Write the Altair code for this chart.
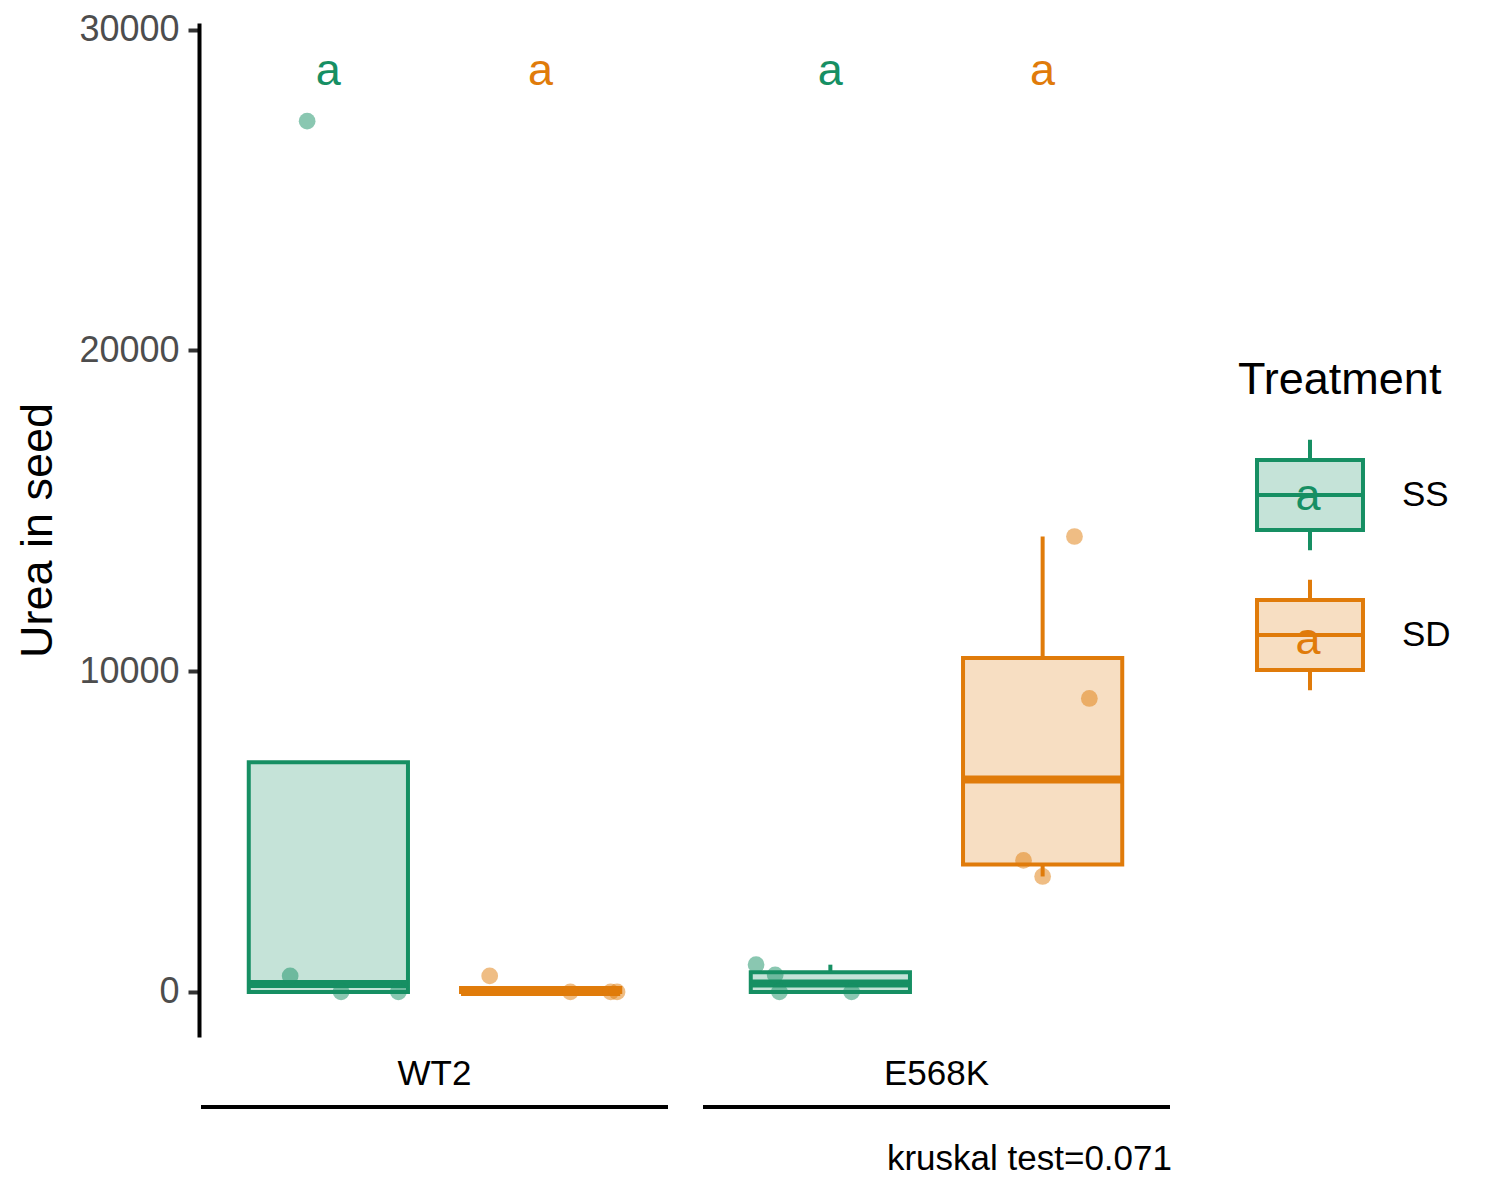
import altair as alt
import pandas as pd

FONT = "Liberation Sans"

# ---- data ----
genotypes = ["WT2", "E568K"]
treatments = ["SS", "SD"]

genotype = ["WT2"] * 8 + ["E568K"] * 8
treatment = ["SS"] * 4 + ["SD"] * 4 + ["SS"] * 4 + ["SD"] * 4
urea = [27150, 500, 0, 0,
        500, 0, 0, 0,
        850, 530, 0, 0,
        14200, 9150, 4100, 3600]
jitter = [-0.10, -0.18, 0.06, 0.33,
          -0.24, 0.14, 0.33, 0.36,
          -0.35, -0.26, -0.24, 0.10,
          0.15, 0.22, -0.09, 0.00]
letter = ["a"] * 16
letter_y = 28700
caption = "kruskal test=0.071"

strong = ["#168F63", "#E07B0A"]
light = ["#C5E3D8", "#F7DEC2"]

df = pd.DataFrame(dict(Genotype=genotype, Treatment=treatment, urea=urea,
                       jitter=jitter, letter=letter))

W, H = 467, 1014
xscale = alt.Scale(domain=[0.4, 2.6], nice=False, zero=False)
yscale = alt.Scale(domain=[-1405, 30210], nice=False, zero=False)
yax = alt.Axis(title="Urea in seed", values=[0, 10000, 20000, 30000], format="d", grid=False)
# colour scale for marks without legend (domain listed in reverse order so it
# is not merged with the fill/stroke legend)
col_strong = alt.Scale(domain=treatments[::-1], range=strong[::-1])

LX, LY = 1037, 335
PATH = ("M-0.757,-0.5H0.757V0.5H-0.757Z M-0.757,0H0.757 "
        "M0,-0.5V-0.79 M0,0.5V0.79")
leg = alt.Legend(title="Treatment", orient="none", legendX=LX, legendY=LY,
                 symbolType=PATH, symbolSize=19600, symbolStrokeWidth=4,
                 titleFontSize=45, titleFontWeight="normal", titleColor="black",
                 titleFont=FONT, labelFont=FONT, titleLimit=500,
                 labelFontSize=35, labelColor="black", labelOffset=20,
                 rowPadding=4, titlePadding=20, direction="vertical")
# second legend that only draws the coloured letter inside each key
leg_letter = alt.Legend(title="", orient="none", legendX=LX, legendY=LY + 68,
                        symbolType="square", symbolSize=19600,
                        symbolFillColor="transparent", symbolStrokeColor="transparent",
                        symbolStrokeWidth=0,
                        labelExpr="'a'", labelFont=FONT, labelFontSize=45,
                        labelAlign="center", labelBaseline="middle",
                        labelOffset=alt.ExprRef("-70"),
                        labelColor=alt.ExprRef(
                            f"datum.value === '{treatments[0]}' ? '{strong[0]}' : '{strong[1]}'"),
                        rowPadding=4, direction="vertical")

summ = alt.Chart().transform_joinaggregate(
    q1="q1(urea)", q3="q3(urea)", med="median(urea)", groupby=["Genotype", "Treatment"]
).transform_calculate(
    lo="datum.q1 - 1.5*(datum.q3 - datum.q1)",
    hi="datum.q3 + 1.5*(datum.q3 - datum.q1)",
).transform_filter(
    "datum.urea >= datum.lo && datum.urea <= datum.hi"
).transform_aggregate(
    q1="max(q1)", q3="max(q3)", med="max(med)", dmin="min(urea)", dmax="max(urea)",
    groupby=["Genotype", "Treatment"],
).transform_calculate(
    wlo="min(datum.q1, datum.dmin)",
    whi="max(datum.q3, datum.dmax)",
    idx="datum.Treatment === 'SS' ? 1 : 2",
).transform_calculate(
    xl="datum.idx - 0.375",
    xr="datum.idx + 0.375",
)

upper = summ.mark_rule(strokeWidth=4).encode(
    x=alt.X("idx:Q", scale=xscale, axis=None),
    y=alt.Y("q3:Q", scale=yscale, axis=yax),
    y2="whi:Q",
    color=alt.Color("Treatment:N", scale=col_strong, legend=None),
)
lower = summ.mark_rule(strokeWidth=4).encode(
    x=alt.X("idx:Q", scale=xscale, axis=None),
    y=alt.Y("wlo:Q", scale=yscale, axis=yax),
    y2="q1:Q",
    color=alt.Color("Treatment:N", scale=col_strong, legend=None),
)
box = summ.mark_rect(strokeWidth=4).encode(
    x=alt.X("xl:Q", scale=xscale, axis=None),
    x2="xr:Q",
    y=alt.Y("q1:Q", scale=yscale, axis=yax),
    y2="q3:Q",
    fill=alt.Fill("Treatment:N", scale=alt.Scale(domain=treatments, range=light), legend=leg),
    stroke=alt.Stroke("Treatment:N", scale=alt.Scale(domain=treatments, range=strong), legend=leg),
)
med = summ.mark_rule(strokeWidth=8).encode(
    x=alt.X("xl:Q", scale=xscale, axis=None),
    x2="xr:Q",
    y=alt.Y("med:Q", scale=yscale, axis=yax),
    color=alt.Color("Treatment:N", scale=col_strong, legend=None),
)
pts = alt.Chart().transform_calculate(
    idx="datum.Treatment === 'SS' ? 1 : 2"
).transform_calculate(
    xp="datum.idx + datum.jitter"
).mark_circle(size=280, opacity=0.5).encode(
    x=alt.X("xp:Q", scale=xscale, axis=None),
    y=alt.Y("urea:Q", scale=yscale, axis=yax),
    color=alt.Color("Treatment:N", scale=col_strong, legend=None),
)
txt = alt.Chart().transform_aggregate(
    n="count()", groupby=["Genotype", "Treatment", "letter"]
).transform_calculate(
    idx="datum.Treatment === 'SS' ? 1 : 2", ly=str(letter_y)
).mark_text(fontSize=45, font=FONT, baseline="middle", align="center").encode(
    x=alt.X("idx:Q", scale=xscale, axis=None),
    y=alt.Y("ly:Q", scale=yscale, axis=yax),
    text="letter:N",
    color=alt.Color("Treatment:N", scale=col_strong, legend=None),
    opacity=alt.Opacity("Treatment:O", sort=treatments, scale=alt.Scale(range=[1, 1]),
                        legend=leg_letter),
)
lines = alt.Chart().transform_aggregate(
    n="count()", groupby=["Genotype"]
).mark_rule(strokeWidth=4, color="black").encode(
    x=alt.value(0), x2=alt.value(W), y=alt.value(H + 70)
)

chart = alt.layer(upper, lower, box, med, pts, txt, lines, data=df).properties(
    width=W, height=H
).facet(
    column=alt.Column("Genotype:N", sort=genotypes,
                      header=alt.Header(title=caption, titleOrient="bottom", titleAnchor="end",
                                        titleFontSize=35, titleFontWeight="normal",
                                        titleColor="black", titleFont=FONT, titlePadding=23,
                                        labelOrient="bottom", labelFontSize=35,
                                        labelColor="black", labelFont=FONT, labelPadding=-52)),
    spacing=31,
).properties(
    padding={"left": 7, "top": 3, "right": 10, "bottom": 5},
).configure(font=FONT).configure_view(stroke=None).configure_axis(
    domainColor="black", domainWidth=4, tickColor="#333333", tickWidth=4, tickSize=11,
    labelColor="#4D4D4D", labelFontSize=36, labelPadding=9, labelFont=FONT,
    titleFontSize=45, titleFontWeight="normal", titleColor="black", titlePadding=18, titleFont=FONT,
)

chart.save("out.html", embed_options={"renderer": "svg", "actions": False})
